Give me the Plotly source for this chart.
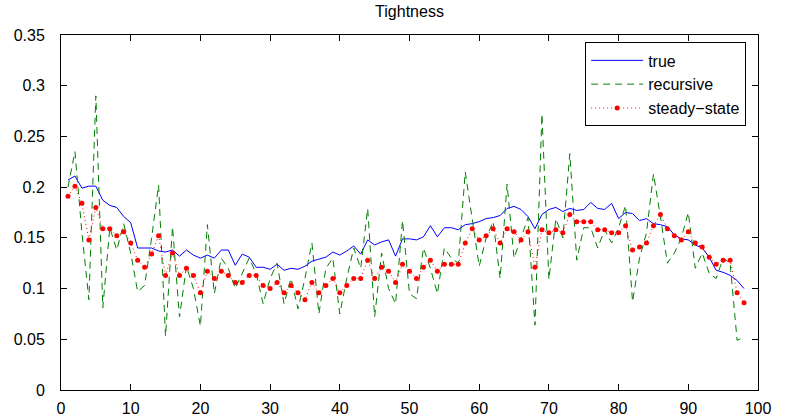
import plotly.graph_objects as go

x = list(range(1, 99))

true_vals = [
    0.207, 0.211, 0.199, 0.201, 0.201, 0.187, 0.182, 0.180, 0.171, 0.165,
    0.140, 0.140, 0.140, 0.137, 0.136, 0.138, 0.132, 0.138, 0.133, 0.130,
    0.133, 0.130, 0.138, 0.138, 0.123, 0.134, 0.131, 0.121, 0.121, 0.119,
    0.124, 0.118, 0.120, 0.119, 0.122, 0.127, 0.129, 0.131, 0.136, 0.133,
    0.137, 0.142, 0.134, 0.148, 0.143, 0.146, 0.148, 0.132, 0.149, 0.149,
    0.148, 0.151, 0.162, 0.151, 0.160, 0.160, 0.158, 0.163, 0.164, 0.166,
    0.169, 0.170, 0.172, 0.179, 0.181, 0.178, 0.171, 0.159, 0.173, 0.178,
    0.180, 0.176, 0.179, 0.177, 0.178, 0.185, 0.179, 0.178, 0.184, 0.169,
    0.175, 0.174, 0.167, 0.169, 0.164, 0.163, 0.161, 0.153, 0.149, 0.148,
    0.143, 0.140, 0.131, 0.118, 0.116, 0.113, 0.108, 0.100,
]

recursive_vals = [
    0.200, 0.235, 0.155, 0.089, 0.290, 0.081, 0.160, 0.138, 0.164, 0.135,
    0.097, 0.103, 0.150, 0.202, 0.053, 0.161, 0.072, 0.122, 0.100, 0.063,
    0.163, 0.095, 0.130, 0.120, 0.100, 0.115, 0.130, 0.115, 0.085, 0.110,
    0.125, 0.085, 0.110, 0.080, 0.110, 0.145, 0.075, 0.120, 0.130, 0.075,
    0.110, 0.140, 0.120, 0.179, 0.072, 0.135, 0.100, 0.085, 0.167, 0.095,
    0.090, 0.140, 0.120, 0.095, 0.140, 0.130, 0.125, 0.215, 0.168, 0.122,
    0.150, 0.166, 0.110, 0.203, 0.130, 0.150, 0.170, 0.064, 0.272, 0.109,
    0.169, 0.150, 0.233, 0.128, 0.160, 0.160, 0.140, 0.158, 0.145, 0.160,
    0.182, 0.087, 0.130, 0.155, 0.213, 0.171, 0.125, 0.135, 0.150, 0.175,
    0.120, 0.135, 0.115, 0.110, 0.130, 0.125, 0.049, 0.052,
]

steady_vals = [
    0.191, 0.201, 0.184, 0.148, 0.180, 0.159, 0.159, 0.152, 0.156, 0.145,
    0.128, 0.121, 0.134, 0.152, 0.113, 0.135, 0.113, 0.120, 0.113, 0.096,
    0.117, 0.110, 0.117, 0.113, 0.106, 0.106, 0.113, 0.113, 0.103, 0.100,
    0.106, 0.096, 0.103, 0.096, 0.089, 0.106, 0.096, 0.103, 0.110, 0.096,
    0.103, 0.110, 0.110, 0.128, 0.110, 0.121, 0.117, 0.106, 0.124, 0.117,
    0.110, 0.121, 0.128, 0.117, 0.124, 0.124, 0.124, 0.145, 0.159, 0.148,
    0.152, 0.159, 0.145, 0.159, 0.156, 0.148, 0.156, 0.121, 0.158, 0.155,
    0.158, 0.155, 0.173, 0.166, 0.166, 0.166, 0.158, 0.158, 0.155, 0.155,
    0.162, 0.138, 0.141, 0.145, 0.162, 0.173, 0.159, 0.152, 0.148, 0.156,
    0.145, 0.141, 0.131, 0.124, 0.128, 0.128, 0.096, 0.086,
]

x_ticks = [0, 10, 20, 30, 40, 50, 60, 70, 80, 90, 100]
y_ticks = [0, 0.05, 0.1, 0.15, 0.2, 0.25, 0.3, 0.35]
y_tick_text = ["0", "0.05", "0.1", "0.15", "0.2", "0.25", "0.3", "0.35"]

FONT = "Liberation Sans, Arial, sans-serif"

fig = go.Figure()
fig.add_trace(go.Scatter(
    x=x, y=true_vals, mode="lines", name="true",
    line=dict(color="#0000ff", width=1),
))
fig.add_trace(go.Scatter(
    x=x, y=recursive_vals, mode="lines", name="recursive",
    line=dict(color="#008000", width=1, dash="7px,5px"),
))
fig.add_trace(go.Scatter(
    x=x, y=steady_vals, mode="lines+markers", name="steady\u2212state",
    line=dict(color="#ff0000", width=1, dash="1px,3px"),
    marker=dict(color="#ff0000", size=5, symbol="circle"),
))

axis_common = dict(
    showgrid=False, zeroline=False, showline=True, linecolor="black",
    linewidth=1, mirror="ticks", ticks="inside", ticklen=6,
    tickcolor="black", tickwidth=1, automargin=False,
    tickfont=dict(family=FONT, size=16, color="black"),
)

fig.update_layout(
    width=794, height=420,
    margin=dict(l=61, r=36, t=35, b=30, autoexpand=False),
    paper_bgcolor="white", plot_bgcolor="white",
    title=dict(text="Tightness", x=(61 + 758) / 2 / 794, xanchor="center",
               y=1 - 11 / 420, yanchor="middle",
               font=dict(family=FONT, size=16, color="black")),
    xaxis=dict(range=[0, 100], tickvals=x_ticks, ticklabelstandoff=4, **axis_common),
    yaxis=dict(range=[0, 0.35], tickvals=y_ticks, ticktext=y_tick_text,
               ticklabelstandoff=12, **axis_common),
    legend=dict(
        x=0.983, y=0.979, xanchor="right", yanchor="top",
        bgcolor="white", bordercolor="black", borderwidth=1,
        font=dict(family=FONT, size=16, color="black"),
        tracegroupgap=0, itemwidth=52,
    ),
    showlegend=True,
)

fig.write_html("out.html")
